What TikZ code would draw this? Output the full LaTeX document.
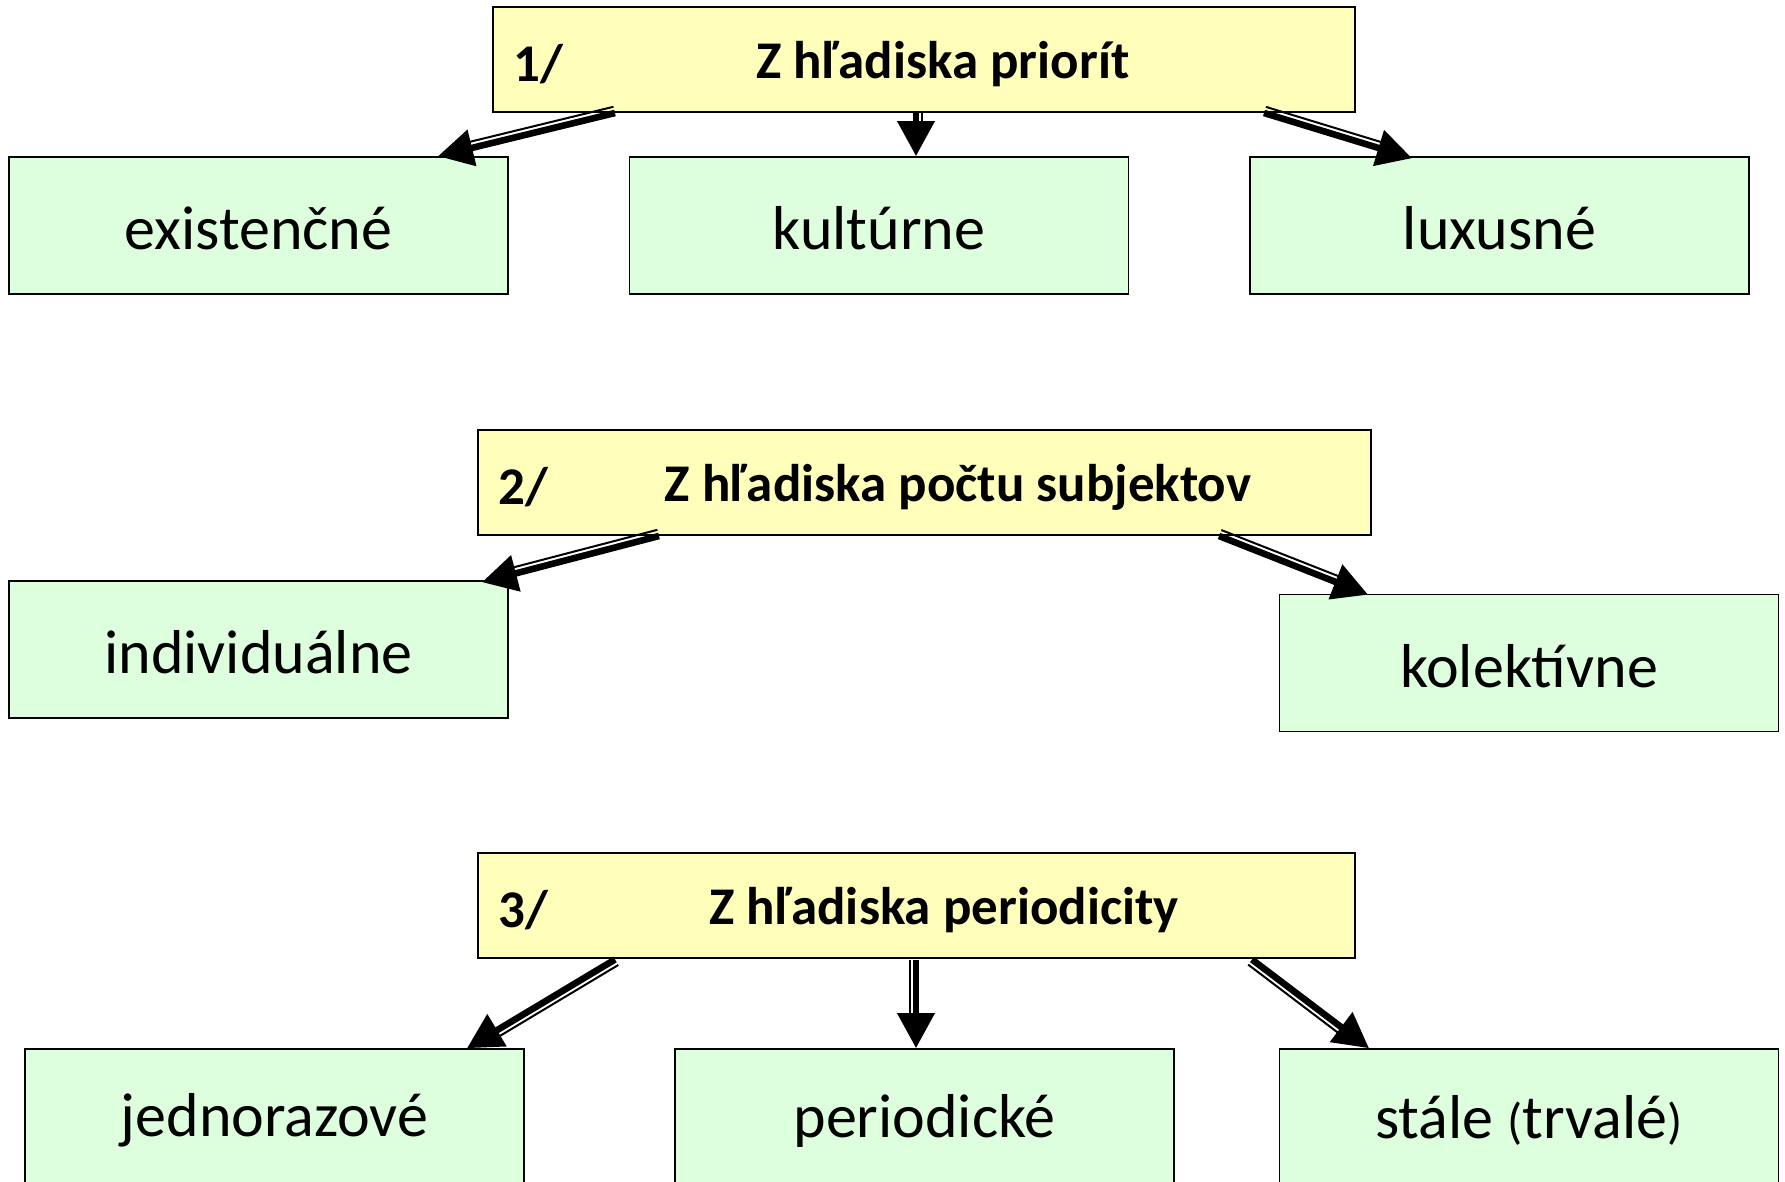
\documentclass[tikz,border=0pt]{standalone}
\usepackage{fontspec}
\setmainfont{Carlito}
\usepackage{xcolor}
\usetikzlibrary{calc,arrows.meta}
\definecolor{headfill}{RGB}{255,255,187}
\definecolor{leaffill}{RGB}{221,255,221}

\begin{document}
\begin{tikzpicture}[y=-0.5pt,x=0.5pt,
	head/.style={draw, line width=1pt, fill=headfill, minimum height=52.5pt, inner sep=0pt},
	headtext/.style={font=\fontsize{26.5}{30}\selectfont\bfseries, inner sep=0pt},
	leaf/.style={draw, line width=0.8pt, fill=leaffill, minimum width=249.5pt, minimum height=68.5pt, inner sep=0pt},
	leaftext/.style={font=\fontsize{31}{36}\selectfont, inner sep=0pt},
	bold arrow/.style={line width=3.3pt, -{Triangle[length=17.5pt,width=18pt]}},
	thin arrow/.style={line width=1pt, shorten >=17pt}]
	\newcommand\Pointer[3]{
		\draw[bold arrow] (#1) -- (#2);
		\draw[thin arrow] ($(#1)!#3!90:(#2)$) -- ($(#2)!#3!-90:(#1)$);
	}
	\newcommand\Paren[1]{{\fontsize{25}{30}\selectfont#1}}
	\useasboundingbox (0,0) rectangle (1785,1182);

	% 1/ priority
	\node[head, minimum width=431pt] (h1) at (924,59.5) {};
	\node[headtext, anchor=west] (n1) at ($(h1.west)+(21,5)$) {1/};
	\node[headtext] (t1) at (943,64.5) {Z hľadiska priorít};
	\node[leaf] (c11) at (258.5,225.5) {};
	\node[leaf] (c12) at (879,225.5) {};
	\node[leaf] (c13) at (1499.5,225.5) {};
	\node[leaftext] (l11) at ($(c11)+(0,3)$) {existenčné};
	\node[leaftext] (l12) at ($(c12)+(0,3)$) {kultúrne};
	\node[leaftext] (l13) at ($(c13)+(0,3)$) {luxusné};

	% 2/ subjects
	\node[head, minimum width=446.5pt] (h2) at (924.5,482.5) {};
	\node[headtext, anchor=west] (n2) at ($(h2.west)+(21,5)$) {2/};
	\node[headtext] (t2) at (958,487.5) {Z hľadiska počtu subjektov};
	\node[leaf] (c21) at (258.5,649.5) {};
	\node[leaf] (c22) at (1529,663) {};
	\node[leaftext] (l21) at ($(c21)+(0,3)$) {individuálne};
	\node[leaftext] (l22) at ($(c22)+(0,3)$) {kolektívne};

	% 3/ periodicity
	\node[head, minimum width=438.5pt] (h3) at (916.5,905) {};
	\node[headtext, anchor=west] (n3) at ($(h3.west)+(21,5)$) {3/};
	\node[headtext] (t3) at (944,910) {Z hľadiska periodicity};
	\node[leaf] (c31) at (274.5,1117.5) {};
	\node[leaf] (c32) at (924.5,1117.5) {};
	\node[leaf] (c33) at (1529,1117.5) {};
	\node[leaftext] (l31) at ($(c31)+(0,3)$) {jednorazové};
	\node[leaftext] (l32) at ($(c32)+(0,3)$) {periodické};
	\node[leaftext] (l33) at ($(c33)+(0,3)$) {stále \Paren{(}trvalé\Paren{)}};

	% arrow ends
	\coordinate (a11) at ($(h1.south)+(-309,0)$);
	\coordinate (b11) at ($(c11.north)+(179.5,0)$);
	\coordinate (a12) at ($(h1.south)+(-8,0)$);
	\coordinate (b12) at ($(c12.north)+(37,0)$);
	\coordinate (a13) at ($(h1.south)+(340,0)$);
	\coordinate (b13) at ($(c13.north)+(-87.5,2)$);
	\coordinate (a21) at ($(h2.south)+(-265.5,0)$);
	\coordinate (b21) at ($(c21.north)+(223.5,2)$);
	\coordinate (a22) at ($(h2.south)+(294.5,0)$);
	\coordinate (b22) at ($(c22.north)+(-161,1)$);
	\coordinate (a31) at ($(h3.south)+(-301.5,1)$);
	\coordinate (b31) at ($(c31.north)+(192.5,0)$);
	\coordinate (a32) at ($(h3.south)+(-0.5,1)$);
	\coordinate (b32) at ($(c32.north)+(-8.5,0)$);
	\coordinate (a33) at ($(h3.south)+(335.5,1)$);
	\coordinate (b33) at ($(c33.north)+(-160,0)$);

	\Pointer{a11}{b11}{-3.2pt}
	\Pointer{a12}{b12}{3.2pt}
	\Pointer{a13}{b13}{3.2pt}
	\Pointer{a21}{b21}{-3.2pt}
	\Pointer{a22}{b22}{3.2pt}
	\Pointer{a31}{b31}{3.2pt}
	\Pointer{a32}{b32}{-3.2pt}
	\Pointer{a33}{b33}{-3.2pt}
\end{tikzpicture}
\end{document}
